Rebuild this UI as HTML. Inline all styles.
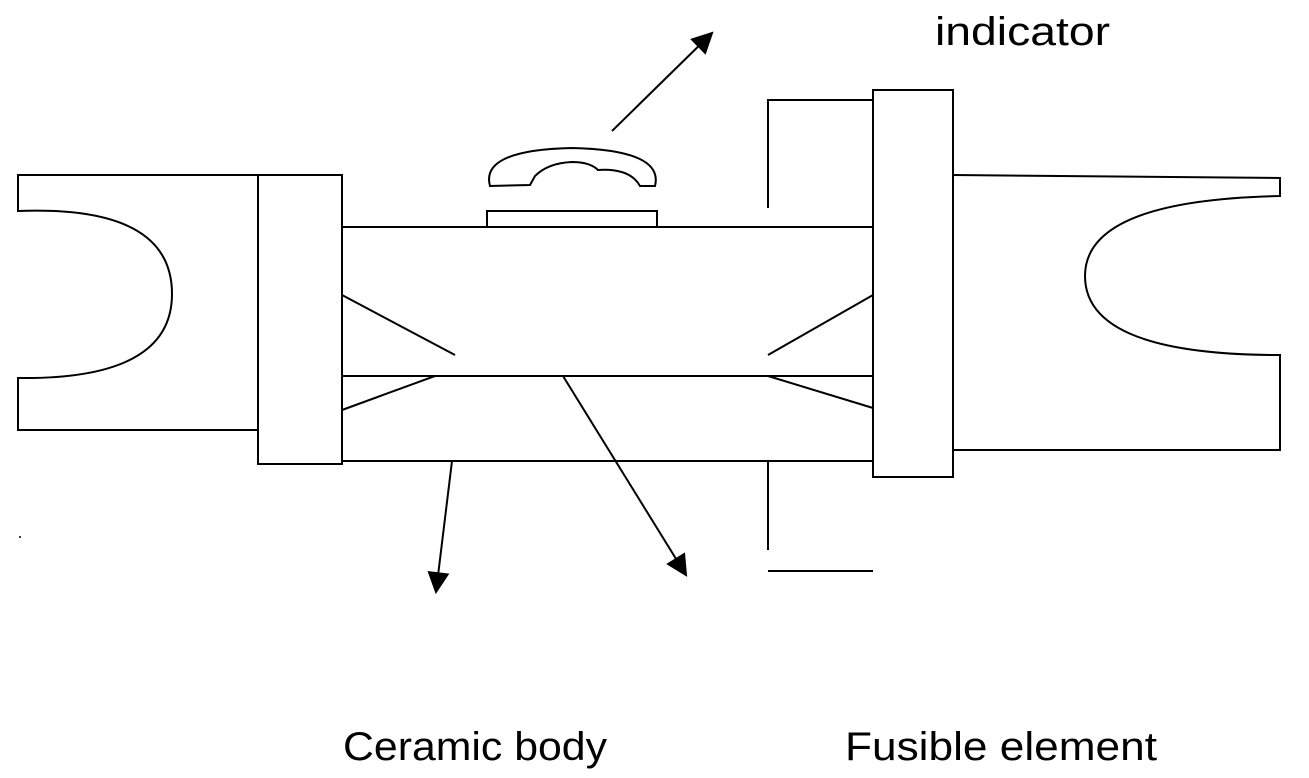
<!DOCTYPE html>
<html><head><meta charset="utf-8"><style>html,body{margin:0;padding:0;background:#fff}svg{display:block}</style></head>
<body>
<svg width="1309" height="778" viewBox="0 0 1309 778" xmlns="http://www.w3.org/2000/svg">
<defs>
<marker id="a2" viewBox="0 0 10 10" refX="9" refY="5" markerWidth="24" markerHeight="22" orient="auto" markerUnits="userSpaceOnUse"><path d="M0,0 L10,5 L0,10 z" fill="#000"/></marker></defs>
<g fill="none" stroke="#000" stroke-width="2">
<path d="M258,175 L18,175 L18,211 Q172,205 172,294 Q172,380 18,378 L18,430 L258,430"/>
<rect x="258" y="175" width="84" height="289"/>
<line x1="342" y1="227" x2="873" y2="227"/>
<line x1="342" y1="461" x2="873" y2="461"/>
<line x1="342" y1="376" x2="873" y2="376"/>
<line x1="342" y1="295" x2="455" y2="355"/>
<line x1="342" y1="410" x2="435" y2="376"/>
<line x1="873" y1="295" x2="768" y2="355"/>
<line x1="873" y1="408" x2="768" y2="376"/>
<rect x="487" y="211" width="170" height="16"/>
<path d="M490,186 Q480,150 572,148 Q664,150 655,186 L640,186 Q630,168 598,170 Q590,162 572,162 Q548,163 535,176 L530,185 Z"/>
<line x1="612" y1="131" x2="712" y2="33" marker-end="url(#a2)"/>
<rect x="873" y="90" width="80" height="387"/>
<path d="M873,100 L768,100 L768,208"/>
<line x1="768" y1="462" x2="768" y2="550"/>
<line x1="768" y1="571" x2="873" y2="571"/>
<path d="M953,175 L1280,178 L1280,196 Q1085,200 1085,276 Q1085,355 1280,355 L1280,450 L953,450"/>
<line x1="452" y1="461" x2="436" y2="592" marker-end="url(#a2)"/>
<line x1="563" y1="376" x2="686" y2="575" marker-end="url(#a2)"/>
</g>
<circle cx="20" cy="537" r="1" fill="#000"/>
<g font-family="Liberation Sans, sans-serif" font-size="40" fill="#000">
<text x="935" y="45" textLength="175" lengthAdjust="spacingAndGlyphs">indicator</text>
<text x="343" y="760" textLength="264" lengthAdjust="spacingAndGlyphs">Ceramic body</text>
<text x="845" y="760" textLength="312" lengthAdjust="spacingAndGlyphs">Fusible element</text>
</g>
</svg>
</body></html>
